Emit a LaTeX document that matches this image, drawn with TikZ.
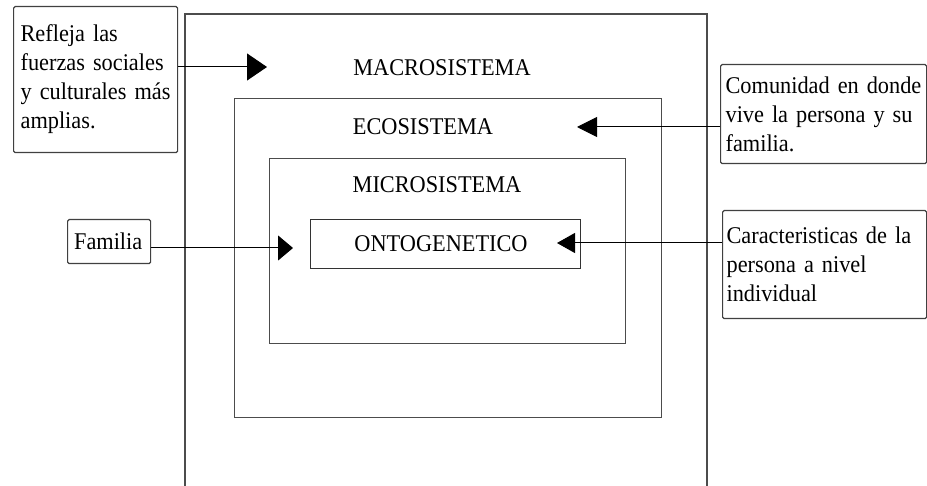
\documentclass[tikz,border=0pt]{standalone}
\usepackage{fontspec}
\setmainfont{Liberation Serif}[FakeStretch=0.93]
\usetikzlibrary{arrows.meta}
\begin{document}
\begin{tikzpicture}[x=1pt,y=-1pt,
  frame/.style={draw=black!70,line width=1.3pt},
  sidebox/.style={draw=black!75,line width=1.2pt,rounded corners=1.5pt,inner sep=0pt,font=\fontsize{24}{29}\selectfont,align=left,anchor=north west},
  lbl/.style={font=\fontsize{24}{29}\selectfont,inner sep=0pt},
  conn/.style={line width=1pt,black}
]
\useasboundingbox (0,0) rectangle (927,486);
% outer macro box (open at bottom)
\draw[frame] (185,486) -- (185,14) -- (707,14) -- (707,486);
% nested boxes
\node[frame,inner sep=0pt,minimum width=427pt,minimum height=319pt,anchor=north west] (eco) at (234,98) {};
\node[frame,inner sep=0pt,minimum width=356pt,minimum height=185pt,anchor=north west] (micro) at (269,158) {};
\node[frame,draw=black!80,inner sep=0pt,minimum width=270pt,minimum height=49pt,anchor=north west] (onto) at (310,219) {};
% labels
\node[lbl] (macrolbl) at (442,68) {MACROSISTEMA};
\node[lbl] (ecolbl) at (423,127) {ECOSISTEMA};
\node[lbl] (microlbl) at (437,185) {MICROSISTEMA};
\node[lbl] (ontolbl) at (441,244) {ONTOGENETICO};
% side boxes
\node[sidebox,minimum width=163pt,minimum height=146pt,text width=150pt,inner xsep=7pt] (refleja) at (13,6)
  {Refleja las\\fuerzas sociales\\y culturales más\\amplias.\\[-8pt]};
\node[sidebox,minimum width=202pt,minimum height=99pt,text width=196pt,inner xsep=5pt] (comunidad) at (720,64)
  {Comunidad en donde\\vive la persona y su\\familia.};
\node[sidebox,minimum width=83pt,minimum height=44pt,text width=70pt,inner xsep=5pt] (familia) at (67,219)
  {Familia};
\node[sidebox,minimum width=202pt,minimum height=108pt,text width=196pt,inner xsep=4pt] (caract) at (722,210)
  {Caracteristicas de la\\persona a nivel\\individual};
% arrow tips
\coordinate (tipA) at (267,67);
\coordinate (tipB) at (577,127);
\coordinate (tipC) at (293,248);
\coordinate (tipD) at (557,243);
% connectors
\draw[conn,-{Triangle[length=20pt,width=27pt]}] (refleja.east |- tipA) -- (tipA);
\draw[conn,-{Triangle[length=20pt,width=20pt]}] (comunidad.west |- tipB) -- (tipB);
\draw[conn,-{Triangle[length=15pt,width=25pt]}] (familia.east |- tipC) -- (tipC);
\draw[conn,-{Triangle[length=18pt,width=20pt]}] (caract.west |- tipD) -- (tipD);
\end{tikzpicture}
\end{document}
